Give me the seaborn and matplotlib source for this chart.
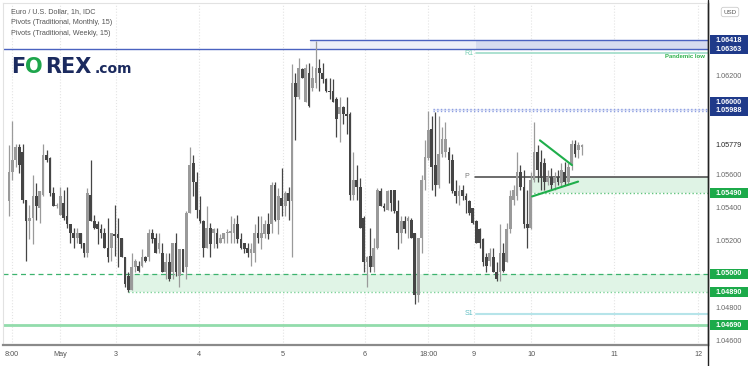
"""
EUR/USD 1h candlestick chart with monthly/weekly pivot levels (FOREX.com style).
"""
import matplotlib
matplotlib.use("Agg")
import matplotlib.pyplot as plt
import matplotlib.transforms as mtransforms
from matplotlib.patches import Rectangle
import numpy as np
import pandas as pd
import seaborn as sns

# hourly candles
opens = [
    1.0544, 1.0562, 1.0569, 1.0577, 1.0574, 1.0545, 1.0532, 1.0534, 1.0547, 1.0540, 1.0548, 1.0572,
    1.0570, 1.0549, 1.0541, 1.0536, 1.0543, 1.0535, 1.0530, 1.0525, 1.0522, 1.0525, 1.0519, 1.0513,
    1.0548, 1.0532, 1.0530, 1.0527, 1.0525, 1.0516, 1.0516, 1.0524, 1.0524, 1.0522, 1.0510, 1.0499,
    1.0490, 1.0504, 1.0505, 1.0505, 1.0510, 1.0510, 1.0525, 1.0522, 1.0515, 1.0513, 1.0501, 1.0507,
    1.0501, 1.0519, 1.0499, 1.0515, 1.0504, 1.0537, 1.0567, 1.0556, 1.0539, 1.0532, 1.0516, 1.0528,
    1.0525, 1.0525, 1.0519, 1.0521, 1.0525, 1.0525, 1.0525, 1.0530, 1.0521, 1.0519, 1.0516, 1.0513,
    1.0513, 1.0525, 1.0522, 1.0524, 1.0530, 1.0530, 1.0554, 1.0533, 1.0546, 1.0541, 1.0549, 1.0544,
    1.0616, 1.0607, 1.0624, 1.0604, 1.0622, 1.0613, 1.0616, 1.0625, 1.0622, 1.0618, 1.0611, 1.0611,
    1.0606, 1.0597, 1.0601, 1.0597, 1.0597, 1.0548, 1.0557, 1.0553, 1.0534, 1.0507, 1.0511, 1.0504,
    1.0516, 1.0550, 1.0541, 1.0539, 1.0551, 1.0551, 1.0538, 1.0525, 1.0532, 1.0532, 1.0533, 1.0525,
    1.0487, 1.0522, 1.0557, 1.0570, 1.0588, 1.0566, 1.0554, 1.0573, 1.0574, 1.0574, 1.0569, 1.0550,
    1.0547, 1.0551, 1.0547, 1.0544, 1.0540, 1.0532, 1.0527, 1.0521, 1.0510, 1.0508, 1.0510, 1.0501,
    1.0501, 1.0513, 1.0507, 1.0527, 1.0545, 1.0547, 1.0562, 1.0553, 1.0530, 1.0528, 1.0557, 1.0574,
    1.0568, 1.0567, 1.0556, 1.0559, 1.0555, 1.0559, 1.0555, 1.0562, 1.0556, 1.0566, 1.0579, 1.0575,
    1.0577,
]
highs = [
    1.0578, 1.0593, 1.0579, 1.0579, 1.0579, 1.0545, 1.0542, 1.0560, 1.0555, 1.0550, 1.0579, 1.0575,
    1.0571, 1.0553, 1.0543, 1.0553, 1.0551, 1.0553, 1.0530, 1.0528, 1.0528, 1.0525, 1.0519, 1.0552,
    1.0569, 1.0536, 1.0532, 1.0530, 1.0528, 1.0534, 1.0525, 1.0542, 1.0534, 1.0522, 1.0510, 1.0501,
    1.0513, 1.0509, 1.0508, 1.0515, 1.0511, 1.0527, 1.0527, 1.0525, 1.0525, 1.0519, 1.0513, 1.0513,
    1.0519, 1.0525, 1.0515, 1.0515, 1.0538, 1.0577, 1.0572, 1.0562, 1.0547, 1.0533, 1.0541, 1.0531,
    1.0528, 1.0528, 1.0524, 1.0525, 1.0527, 1.0535, 1.0534, 1.0536, 1.0525, 1.0519, 1.0519, 1.0519,
    1.0530, 1.0535, 1.0535, 1.0533, 1.0537, 1.0556, 1.0556, 1.0552, 1.0564, 1.0550, 1.0553, 1.0627,
    1.0622, 1.0631, 1.0625, 1.0627, 1.0628, 1.0626, 1.0641, 1.0630, 1.0628, 1.0619, 1.0619, 1.0618,
    1.0607, 1.0607, 1.0602, 1.0607, 1.0598, 1.0574, 1.0566, 1.0558, 1.0535, 1.0511, 1.0528, 1.0522,
    1.0552, 1.0552, 1.0543, 1.0551, 1.0551, 1.0551, 1.0545, 1.0535, 1.0535, 1.0535, 1.0534, 1.0525,
    1.0522, 1.0560, 1.0581, 1.0599, 1.0596, 1.0598, 1.0596, 1.0589, 1.0592, 1.0577, 1.0573, 1.0557,
    1.0554, 1.0554, 1.0549, 1.0545, 1.0540, 1.0533, 1.0528, 1.0522, 1.0513, 1.0516, 1.0516, 1.0507,
    1.0530, 1.0519, 1.0531, 1.0551, 1.0554, 1.0574, 1.0566, 1.0563, 1.0551, 1.0562, 1.0592, 1.0578,
    1.0575, 1.0570, 1.0563, 1.0564, 1.0562, 1.0563, 1.0567, 1.0568, 1.0567, 1.0581, 1.0581, 1.0580,
    1.0579,
]
lows = [
    1.0535, 1.0557, 1.0565, 1.0561, 1.0543, 1.0508, 1.0521, 1.0518, 1.0533, 1.0531, 1.0547, 1.0568,
    1.0547, 1.0541, 1.0540, 1.0536, 1.0533, 1.0528, 1.0519, 1.0516, 1.0519, 1.0516, 1.0510, 1.0510,
    1.0532, 1.0527, 1.0518, 1.0522, 1.0516, 1.0507, 1.0508, 1.0511, 1.0504, 1.0510, 1.0492, 1.0489,
    1.0490, 1.0501, 1.0501, 1.0504, 1.0507, 1.0508, 1.0519, 1.0513, 1.0513, 1.0501, 1.0497, 1.0496,
    1.0497, 1.0499, 1.0492, 1.0501, 1.0497, 1.0537, 1.0547, 1.0534, 1.0531, 1.0510, 1.0516, 1.0510,
    1.0516, 1.0516, 1.0519, 1.0519, 1.0519, 1.0519, 1.0519, 1.0519, 1.0515, 1.0513, 1.0510, 1.0505,
    1.0507, 1.0519, 1.0515, 1.0522, 1.0521, 1.0525, 1.0532, 1.0524, 1.0535, 1.0535, 1.0533, 1.0510,
    1.0581, 1.0606, 1.0619, 1.0604, 1.0601, 1.0611, 1.0613, 1.0611, 1.0616, 1.0610, 1.0606, 1.0604,
    1.0583, 1.0580, 1.0591, 1.0585, 1.0545, 1.0545, 1.0545, 1.0528, 1.0501, 1.0492, 1.0501, 1.0501,
    1.0515, 1.0541, 1.0538, 1.0539, 1.0538, 1.0537, 1.0515, 1.0519, 1.0525, 1.0522, 1.0522, 1.0482,
    1.0483, 1.0513, 1.0551, 1.0569, 1.0551, 1.0547, 1.0552, 1.0571, 1.0571, 1.0555, 1.0549, 1.0543,
    1.0542, 1.0545, 1.0537, 1.0536, 1.0530, 1.0519, 1.0516, 1.0505, 1.0501, 1.0505, 1.0501, 1.0496,
    1.0496, 1.0501, 1.0507, 1.0525, 1.0542, 1.0545, 1.0551, 1.0528, 1.0516, 1.0527, 1.0556, 1.0556,
    1.0551, 1.0551, 1.0554, 1.0551, 1.0551, 1.0554, 1.0553, 1.0554, 1.0554, 1.0563, 1.0571, 1.0570,
    1.0572,
]
closes = [
    1.0562, 1.0569, 1.0577, 1.0566, 1.0545, 1.0532, 1.0534, 1.0547, 1.0541, 1.0550, 1.0572, 1.0569,
    1.0549, 1.0541, 1.0542, 1.0547, 1.0534, 1.0530, 1.0525, 1.0522, 1.0525, 1.0518, 1.0513, 1.0549,
    1.0532, 1.0528, 1.0527, 1.0525, 1.0516, 1.0510, 1.0525, 1.0523, 1.0522, 1.0510, 1.0494, 1.0490,
    1.0504, 1.0508, 1.0502, 1.0510, 1.0508, 1.0525, 1.0521, 1.0513, 1.0519, 1.0501, 1.0507, 1.0497,
    1.0519, 1.0501, 1.0515, 1.0501, 1.0537, 1.0566, 1.0556, 1.0539, 1.0532, 1.0516, 1.0528, 1.0518,
    1.0527, 1.0518, 1.0522, 1.0525, 1.0525, 1.0526, 1.0530, 1.0521, 1.0516, 1.0515, 1.0513, 1.0515,
    1.0525, 1.0522, 1.0525, 1.0530, 1.0524, 1.0554, 1.0533, 1.0547, 1.0541, 1.0549, 1.0544, 1.0616,
    1.0607, 1.0625, 1.0619, 1.0625, 1.0602, 1.0619, 1.0625, 1.0622, 1.0618, 1.0611, 1.0610, 1.0604,
    1.0594, 1.0601, 1.0597, 1.0596, 1.0548, 1.0557, 1.0553, 1.0528, 1.0507, 1.0510, 1.0504, 1.0516,
    1.0551, 1.0541, 1.0540, 1.0550, 1.0543, 1.0538, 1.0525, 1.0532, 1.0527, 1.0534, 1.0522, 1.0487,
    1.0522, 1.0557, 1.0571, 1.0587, 1.0565, 1.0554, 1.0573, 1.0582, 1.0582, 1.0569, 1.0550, 1.0547,
    1.0550, 1.0547, 1.0545, 1.0537, 1.0531, 1.0519, 1.0519, 1.0507, 1.0505, 1.0513, 1.0501, 1.0497,
    1.0513, 1.0502, 1.0527, 1.0547, 1.0551, 1.0562, 1.0553, 1.0530, 1.0528, 1.0557, 1.0574, 1.0563,
    1.0558, 1.0556, 1.0559, 1.0554, 1.0559, 1.0556, 1.0563, 1.0556, 1.0565, 1.0579, 1.0573, 1.0578,
    1.0578,
]

# x axis labels (bar index where each label sits)
tick_labels = ["8:00", "May", "3", "4", "5", "6", "18:00", "9", "10", "11", "12"]
tick_bars = [0.9, 15.0, 31.4, 55.7, 80.4, 104.4, 122.9, 136.4, 153.1, 177.4, 202.1]
y_ticks = [1.046, 1.048, 1.052, 1.054, 1.056, 1.062]

# pivot / support-resistance levels
monthly_high, monthly_low = 1.06418, 1.06363
level_1060, level_10599 = 1.06000, 1.05988
weekly_p = 1.0559
level_1549 = 1.05490
level_105, level_1489 = 1.05000, 1.04890
level_1469 = 1.04690
r1_level, s1_level = 1.06338, 1.04758
last_price = 1.05779

# triangle trend lines (bar index, price)
tri_upper_x, tri_upper_y = [155.7, 165.1], [1.0581, 1.0566]
tri_lower_x, tri_lower_y = [153.4, 166.9], [1.0547, 1.0556]

sns.set_theme(style="white")
plt.rcParams["font.family"] = ["Liberation Sans", "DejaVu Sans"]

df = pd.DataFrame({"open": opens, "high": highs, "low": lows, "close": closes})
df["bar"] = np.arange(len(df))
df["up"] = df["close"] >= df["open"]

fig = plt.figure(figsize=(7.49, 3.66), dpi=100)
ax = fig.add_axes([3 / 749, 21 / 366, 705 / 749, 342 / 366])
x_max = 204.99
ax.set_xlim(-1.76, x_max)
ax.set_ylim(1.045697, 1.066424)

up_col, down_col = "#9a9a9a", "#454545"
colors = np.where(df["up"], up_col, down_col)

# vertical grid
for xb in tick_bars:
    ax.axvline(xb, color="#e4e4e4", ls=":", lw=0.8, zorder=0)

# zones and levels
navy_line = "#4a62c0"
ax.fill_between([88.3, x_max], monthly_low, monthly_high, color="#eceff8", lw=0, zorder=1)
ax.fill_between([137, x_max], monthly_low, monthly_high, color="#d6dcef", lw=0, zorder=1)
ax.plot([88.3, x_max], [monthly_high] * 2, color=navy_line, lw=1, zorder=2)
ax.axhline(monthly_low, color=navy_line, lw=1, zorder=2)

ax.fill_between([124.3, x_max], level_10599, level_1060, color="#e6eaf8", lw=0, zorder=1)
ax.plot([124.3, x_max], [level_1060] * 2, color="#8fa0e2", ls=":", lw=1, zorder=2)
ax.plot([124.3, x_max], [level_10599] * 2, color="#8fa0e2", ls=":", lw=1, zorder=2)

ax.plot([137, x_max], [r1_level] * 2, color="#9edcc8", lw=1.2, zorder=2)
ax.text(136.2, r1_level, "R1", color="#78cfb4", fontsize=5, ha="right", va="center")
ax.text(x_max - 0.8, r1_level - 0.00005, "Pandemic low", color="#2fb24c",
        fontsize=4.3, ha="right", va="top", fontweight="bold")

ax.plot([136.7, x_max], [weekly_p] * 2, color="#444444", lw=1.1, zorder=2)
ax.text(134.8, weekly_p + 0.00003, "P", color="#777777", fontsize=5, ha="right", va="center")
ax.fill_between([152.8, x_max], level_1549, weekly_p, color="#dff3e5", lw=0, zorder=1)
ax.plot([152.8, x_max], [level_1549] * 2, color="#62c47e", ls=":", lw=1, zorder=2)

ax.fill_between([34.9, x_max], level_1489, level_105, color="#e0f4e6", lw=0, zorder=1)
ax.axhline(level_105, color="#3cb36e", ls=(0, (4, 3)), lw=0.9, zorder=2)
ax.plot([34.9, x_max], [level_1489] * 2, color="#7fd39a", ls=":", lw=1, zorder=2)

ax.plot([137, x_max], [s1_level] * 2, color="#b6e4e9", lw=1.5, zorder=2)
ax.text(136.2, s1_level, "S1", color="#62bfc4", fontsize=5, ha="right", va="center")
ax.axhline(level_1469, color="#92dcab", lw=2, zorder=2)

# candles
ax.vlines(df["bar"], df["low"], df["high"], colors=colors, lw=0.9, zorder=3)
body_low = np.minimum(df["open"], df["close"])
body_h = np.maximum((df["close"] - df["open"]).abs(), 0.00005)
ax.bar(df["bar"], body_h, bottom=body_low, width=0.8, color=colors, linewidth=0, zorder=4)

# triangle
sns.lineplot(x=tri_upper_x, y=tri_upper_y, ax=ax, color="#1fae4b", lw=1.5, zorder=5)
sns.lineplot(x=tri_lower_x, y=tri_lower_y, ax=ax, color="#1fae4b", lw=1.5, zorder=5)

# axes styling
ax.set_xticks(tick_bars)
ax.set_xticklabels(tick_labels)
ax.yaxis.tick_right()
ax.set_yticks(y_ticks)
ax.set_yticklabels([f"{v:.5f}" for v in y_ticks])
ax.tick_params(axis="x", length=0, pad=4, labelsize=5.2, labelcolor="#555555")
ax.tick_params(axis="y", length=0, pad=5, labelsize=5.2, labelcolor="#666666")
ax.set_xlabel("")
ax.set_ylabel("")
for side in ["top", "left"]:
    ax.spines[side].set_color("#e2e2e2")
    ax.spines[side].set_linewidth(0.8)
ax.spines["bottom"].set_color("#8a8a8a")
ax.spines["bottom"].set_linewidth(1.6)
ax.spines["right"].set_color("#222222")
ax.spines["right"].set_linewidth(1)
fig.add_artist(plt.Line2D([708 / 749, 708 / 749], [0, 1], color="#222222", lw=1))

# price labels on the right scale
trans = mtransforms.blended_transform_factory(fig.transFigure, ax.transData)
px_to_price = (1.066424 - 1.045697) / 342
price_tags = [
    (monthly_high, monthly_high, "#1f3a8a", "white"),
    (monthly_low, monthly_low, "#1f3a8a", "white"),
    (level_1060, 1.06042, "#1f3a8a", "white"),
    (level_10599, level_10599, "#1f3a8a", "white"),
    (last_price, last_price, "white", "#222222"),
    (level_1549, level_1549, "#1caa4a", "white"),
    (level_105, level_105, "#1caa4a", "white"),
    (level_1489, level_1489, "#1caa4a", "white"),
    (level_1469, level_1469, "#1caa4a", "white"),
]
h = 9.5 * px_to_price
for val, ypos, fc, tc in price_tags:
    ax.add_patch(Rectangle((710 / 749, ypos - h / 2), 38 / 749, h, transform=trans,
                           facecolor=fc, edgecolor="none", clip_on=False, zorder=6))
    ax.text(729 / 749, ypos, f"{val:.5f}", transform=trans, color=tc, fontsize=5.2,
            ha="center", va="center", clip_on=False, zorder=7,
            fontweight="bold" if tc == "white" else "normal")

fig.text(730 / 749, 1 - 12 / 366, "USD", fontsize=4.5, color="#555555", ha="center", va="center",
         bbox=dict(boxstyle="round,pad=0.35", fc="white", ec="#cccccc", lw=0.6))

# legend text top-left
for i, line in enumerate(["Euro / U.S. Dollar, 1h, IDC",
                          "Pivots (Traditional, Monthly, 15)",
                          "Pivots (Traditional, Weekly, 15)"]):
    fig.text(11 / 749, 1 - (12 + 10.6 * i) / 366, line, fontsize=5.2, color="#555555", va="center")

# FOREX.com logo
navy = "#1b2a5e"
base = 1 - 73 / 366
logo_font = dict(fontsize=15, fontweight="heavy", va="baseline", family="DejaVu Sans")
fig.text(11 / 749, base, "F", color=navy, **logo_font)
fig.text(25 / 749, base, "O", color="#1ea54c", **logo_font)
fig.text(45 / 749, base, "REX", color=navy, **logo_font)
fig.text(95 / 749, base, ".com", fontsize=10, color=navy, fontweight="bold", va="baseline",
         family="DejaVu Sans")

fig.savefig("out.png", dpi=100)
